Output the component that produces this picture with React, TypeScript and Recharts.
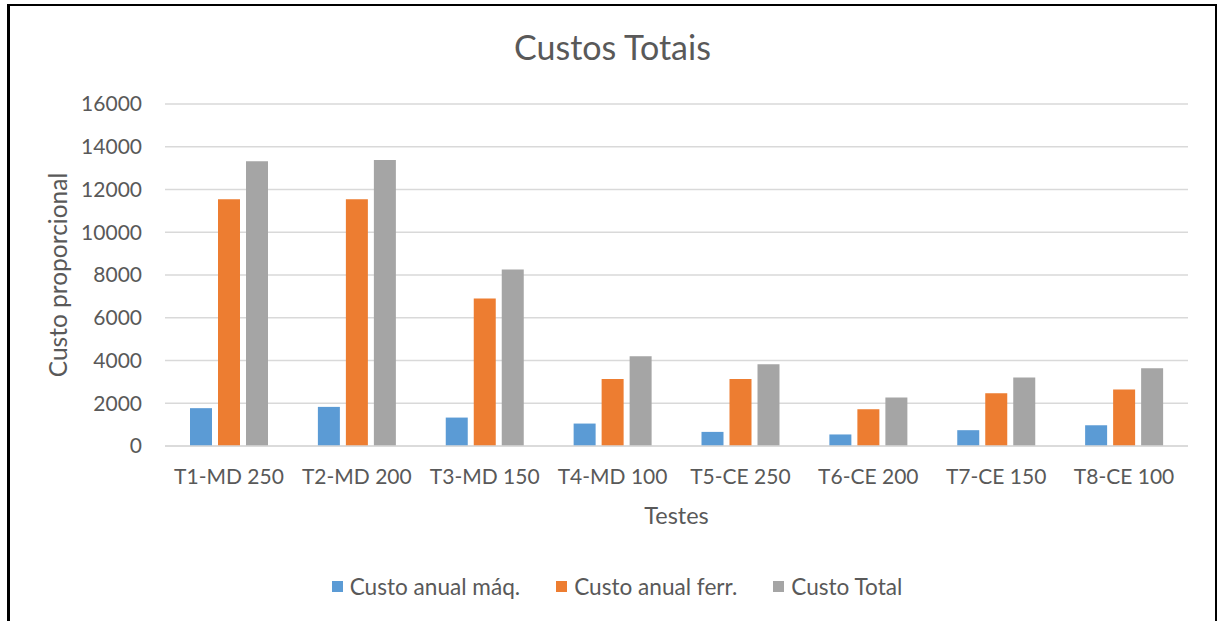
import { BarChart, Bar, XAxis, YAxis, CartesianGrid, Legend, Label } from 'recharts';

// Tests and their proportional costs
const testes = ['T1-MD 250', 'T2-MD 200', 'T3-MD 150', 'T4-MD 100', 'T5-CE 250', 'T6-CE 200', 'T7-CE 150', 'T8-CE 100'];
const custoMaq = [1770, 1830, 1330, 1050, 660, 540, 740, 970];
const custoFerr = [11540, 11540, 6900, 3140, 3130, 1720, 2470, 2640];
const custoTotal = [13320, 13380, 8260, 4200, 3820, 2270, 3210, 3640];
const yTicks = [0, 2000, 4000, 6000, 8000, 10000, 12000, 14000, 16000];

const series = [
  { key: 'maq', name: 'Custo anual máq.', color: '#5B9BD5' },
  { key: 'ferr', name: 'Custo anual ferr.', color: '#ED7D31' },
  { key: 'total', name: 'Custo Total', color: '#A5A5A5' },
];

const data = testes.map((t, i) => ({
  teste: t,
  maq: custoMaq[i],
  ferr: custoFerr[i],
  total: custoTotal[i],
}));

const FONT = 'Lato, "Liberation Sans", sans-serif';
const TEXT = '#595959';

function LegendRow() {
  return (
    <div
      style={{
        display: 'flex',
        justifyContent: 'center',
        alignItems: 'center',
        height: 26,
        fontFamily: FONT,
        fontSize: 22.6,
        color: TEXT,
        paddingLeft: 26,
      }}
    >
      {series.map((s) => (
        <div key={s.key} style={{ display: 'flex', alignItems: 'center', margin: '0 18px' }}>
          <span style={{ width: 11, height: 11, background: s.color, marginRight: 7, display: 'inline-block' }} />
          <span>{s.name}</span>
        </div>
      ))}
    </div>
  );
}

export default function App() {
  return (
    <div
      style={{
        position: 'absolute',
        left: 0,
        top: 0,
        width: 1218,
        height: 621,
        overflow: 'hidden',
        background: '#fff',
        fontFamily: FONT,
      }}
    >
      {/* frame around the chart */}
      <div
        style={{
          position: 'absolute',
          left: 7,
          top: 4,
          width: 1210,
          height: 660,
          boxSizing: 'border-box',
          borderLeft: '3px solid #000',
          borderTop: '2px solid #000',
          borderRight: '2px solid #000',
        }}
      />
      <div
        style={{
          position: 'absolute',
          left: 0,
          top: 27,
          width: 1225,
          textAlign: 'center',
          fontSize: 34,
          color: TEXT,
          lineHeight: 1.2,
        }}
      >
        Custos Totais
      </div>
      <div style={{ position: 'absolute', left: 0, top: 0 }}>
        <BarChart
          width={1218}
          height={621}
          data={data}
          margin={{ top: 104, right: 30, left: 20, bottom: 22 }}
          barSize={22}
          barGap={6}
        >
          <CartesianGrid vertical={false} stroke="#D9D9D9" strokeWidth={1.4} />
          <XAxis
            dataKey="teste"
            height={127}
            axisLine={{ stroke: '#D9D9D9', strokeWidth: 1.4 }}
            tickLine={false}
            tickMargin={17}
            tick={{ fill: TEXT, fontSize: 21, fontFamily: FONT }}
            interval={0}
          >
            <Label value="Testes" position="insideTop" offset={61} fill={TEXT} fontSize={23.5} fontFamily={FONT} />
          </XAxis>
          <YAxis
            width={145}
            domain={[0, 16000]}
            ticks={yTicks}
            axisLine={false}
            tickLine={false}
            tickMargin={17}
            tick={{ fill: TEXT, fontSize: 21, fontFamily: FONT }}
          >
            <Label
              value="Custo proporcional"
              angle={-90}
              position="insideLeft"
              offset={38}
              fill={TEXT}
              fontSize={24.5}
              fontFamily={FONT}
              style={{ textAnchor: 'middle' }}
            />
          </YAxis>
          <Legend verticalAlign="bottom" content={() => <LegendRow />} />
          {series.map((s) => (
            <Bar key={s.key} dataKey={s.key} name={s.name} fill={s.color} isAnimationActive={false} />
          ))}
        </BarChart>
      </div>
    </div>
  );
}
